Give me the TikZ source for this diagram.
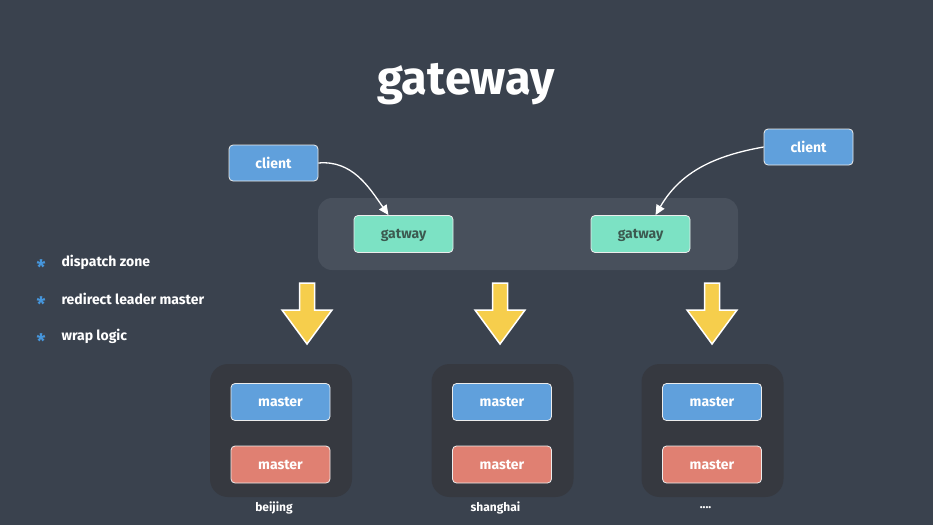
\documentclass[tikz,border=0pt]{standalone}
\usepackage{fontspec}
\setmainfont{Fira Sans}
\usetikzlibrary{arrows.meta}
\definecolor{bg}{RGB}{58,66,78}
\definecolor{zone}{RGB}{72,80,92}
\definecolor{grp}{RGB}{54,57,64}
\definecolor{cblue}{RGB}{96,160,220}
\definecolor{mint}{RGB}{124,226,196}
\definecolor{mred}{RGB}{224,128,114}
\definecolor{ylw}{RGB}{246,206,76}
\definecolor{bstar}{RGB}{70,150,220}
\definecolor{gtext}{RGB}{60,90,80}
\newcommand\mydotslbl{....}
\tikzset{
  box/.style={draw=white!85!gray, line width=0.8pt, rounded corners=4pt, minimum width=99pt, minimum height=37pt, font=\bfseries\fontsize{14}{14}\selectfont, text=white, text depth=0pt},
  clientbox/.style={box, fill=cblue, minimum width=89pt, minimum height=36pt},
  gwbox/.style={box, fill=mint, text=gtext},
  mbox/.style={box, fill=cblue},
  rbox/.style={box, fill=mred},
  grpbox/.style={fill=grp, rounded corners=18pt},
  flow/.style={draw=white, line width=1.3pt, -{Triangle[length=10pt,width=9pt]}},
  bigarrow/.style={fill=ylw, draw=white, line width=1.5pt, line join=miter},
  lbl/.style={text=white, font=\bfseries\fontsize{14}{14}\selectfont},
  bul/.style={text=bstar, font=\bfseries\fontsize{20}{20}\selectfont},
}
\begin{document}
\begin{tikzpicture}[x=1pt,y=-1pt]
\fill[bg] (0,0) rectangle (933,525);
\useasboundingbox (0,0) rectangle (933,525);
\node[text=white, font=\bfseries\fontsize{47}{47}\selectfont] (title) at (466,84) {gateway};
% gateway zone
\fill[zone, rounded corners=14pt] (318,198) rectangle (738,270);
\node[clientbox] (c1) at (273.5,163) {client};
\node[clientbox] (c2) at (808.5,147) {client};
\node[gwbox] (g1) at (403.5,234) {gatway};
\node[gwbox] (g2) at (640.5,234) {gatway};
\draw[flow] (c1.east) to[out=5,in=125] ([xshift=-15pt]g1.north);
\draw[flow] (c2.west) to[out=190,in=60] ([xshift=15pt]g2.north);
% bullets
\foreach \y/\t/\n in {262/dispatch zone/b1, 299/redirect leader master/b2, 336/wrap logic/b3}{
  \node[bul] (s\n) at (41,\y+5) {*};
  \node[lbl, anchor=west] (\n) at (58,\y) {\t};
}
% groups
\foreach \cx/\n/\l in {281/1/beijing, 502.5/2/shanghai, 712.5/3/\mydotslbl}{
  \fill[grpbox] (\cx-71,364) rectangle (\cx+71,497);
  \node[mbox] (m\n) at (\cx-0.5,402) {master};
  \node[rbox] (r\n) at (\cx-0.5,464.5) {master};
  \node[lbl, font=\bfseries\fontsize{12}{12}\selectfont] (l\n) at (\cx-7,508) {\l};
}
% yellow arrows
\foreach \ax in {307,500,712}{
  \draw[bigarrow] (\ax-7.5,283) -- (\ax+7.5,283) -- (\ax+7.5,310) -- (\ax+25,310) -- (\ax,344) -- (\ax-25,310) -- (\ax-7.5,310) -- cycle;
}
\end{tikzpicture}
\end{document}
